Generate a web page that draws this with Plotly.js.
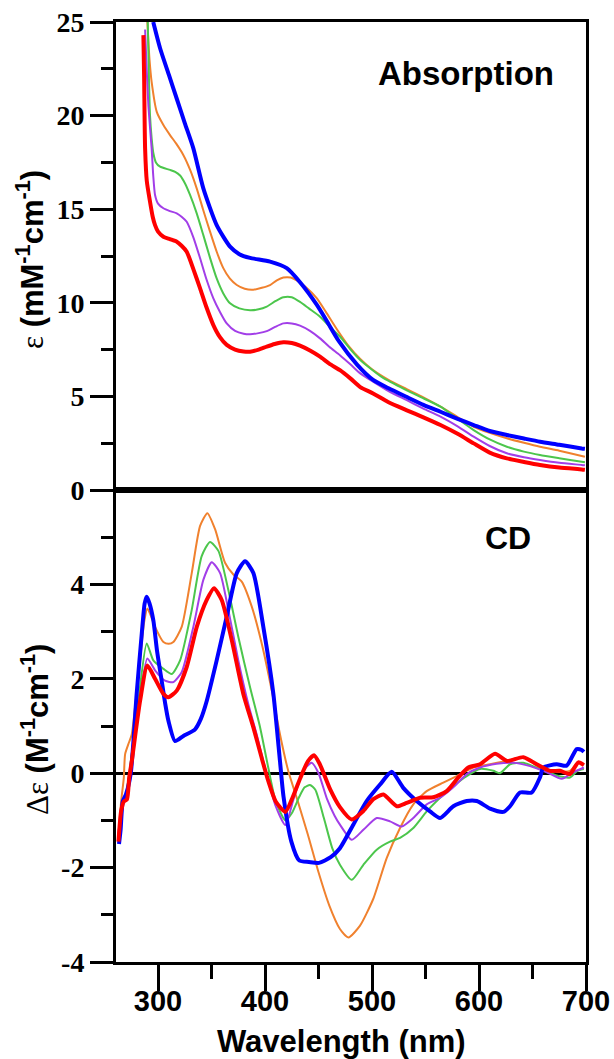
<!DOCTYPE html>
<html>
<head>
<meta charset="utf-8">
<script src="https://cdn.plot.ly/plotly-3.0.1.min.js"></script>
<style>html,body{margin:0;padding:0;background:#fff;}#chart{width:614px;height:1059px;}</style>
</head>
<body>
<div id="chart"></div>
<script>
// ---------- Absorption (epsilon, mM-1 cm-1) ----------
const absBlueX = [295.5,301.9,310,317.5,325,333,342.4,354.8,367.3,376,386,404.7,420.3,432.7,448.3,458,469,486,501,515,532,548,564,580,595,610,626,642,657,675,696,699];
const absBlueY = [25.0,23.6,22.2,20.9,19.6,18.25,16.1,14.15,13.0,12.6,12.4,12.2,11.85,11.1,9.9,9.0,7.95,6.7,5.88,5.45,4.98,4.55,4.18,3.8,3.47,3.15,2.94,2.75,2.58,2.42,2.22,2.2];

const absOrangeX = [290,292,294,298.8,305,311.2,317,323.6,330,336.2,342,348.6,355,361,367,373.6,381,389,397,404.7,411,417.1,424,429.6,438,448.3,457,467,478,489,500,515,532,548,564,580,595,610,626,642,657,675,696,699];
const absOrangeY = [25.0,23.0,21.8,20.2,19.5,18.96,18.5,17.9,17.1,16.1,15.0,13.8,12.7,11.85,11.3,10.95,10.75,10.7,10.8,10.95,11.2,11.35,11.35,11.2,10.85,10.25,9.5,8.6,7.7,7.0,6.45,5.9,5.4,4.95,4.45,3.9,3.38,3.05,2.76,2.52,2.31,2.1,1.82,1.78];

const absGreenX = [290.4,291.5,292.5,294,295.6,298,301.9,311.2,316,320.6,325,329.9,336,342.4,348.6,354.8,361,367.3,376,386,394,401.6,410,417.1,425,432.7,441,451.4,460,470,480,489,495,510,532,548,564,580,595,610,626,642,657,675,696,699];
const absGreenY = [25.0,22.0,20.0,18.8,18.0,17.5,17.27,17.1,17.0,16.8,16.4,15.76,14.8,13.6,12.4,11.3,10.5,9.97,9.7,9.6,9.65,9.8,10.1,10.3,10.3,10.05,9.7,9.26,8.75,8.2,7.5,6.94,6.65,6.0,5.34,4.9,4.45,3.8,3.2,2.7,2.31,2.05,1.87,1.7,1.51,1.48];

const absPurpleX = [287.9,289,291,294,295.5,297.2,300,305,311,317.5,322,326.8,333,339.3,345,351.7,358,364.2,372,380,386,394,401.6,409,417.1,425,432.7,442,451.4,460,470,480,489,501,515,532,548,564,580,595,610,626,642,657,675,696,699];
const absPurpleY = [24.6,23.0,20.5,18.25,16.8,15.76,15.3,15.05,14.9,14.78,14.6,14.33,13.5,12.38,11.3,10.24,9.5,8.9,8.5,8.35,8.32,8.38,8.49,8.7,8.9,8.9,8.78,8.5,8.1,7.65,7.2,6.7,6.23,5.79,5.3,4.81,4.35,3.92,3.4,2.85,2.35,1.96,1.75,1.6,1.45,1.34,1.32];

const absRedX = [286.3,287,287.9,289.5,292.5,295,297.2,300,305,311,317.5,322,326.8,333,339.3,345,351.7,358,364.2,372,380,386,394,401.6,409,417.1,425,432.7,442,451.4,460,470,480,489,501,515,532,548,564,580,595,610,626,642,657,675,696,699];
const absRedY = [24.3,22.0,18.25,16.5,15.4,14.6,14.15,13.8,13.53,13.4,13.26,13.05,12.73,11.8,10.77,9.8,8.81,8.15,7.75,7.5,7.4,7.39,7.5,7.66,7.8,7.89,7.85,7.71,7.45,7.12,6.75,6.4,5.95,5.5,5.16,4.7,4.27,3.88,3.47,3.0,2.49,2.0,1.69,1.5,1.34,1.2,1.1,1.08];

// ---------- CD (delta epsilon, M-1 cm-1) ----------
const cdBlueX = [263.5,265,267,270,274.5,280,284.8,287.5,289.4,292,295.6,299,303.4,306.5,309.7,315.9,323.7,334.6,340,345.5,354.8,364.2,373.6,381.3,389.1,398.4,407.8,414,417.3,424.6,432,441,450.4,461.4,470,482.5,495,507.5,518.4,529.2,541.8,554.2,563.6,576,588.5,597.9,610.3,622.7,629,638.3,649.2,657,660.1,672.6,681.9,691.3,696,698];
const cdBlueY = [-1.5,-1.2,-0.6,-0.45,0.0,1.68,2.96,3.6,3.74,3.6,3.24,2.6,1.96,1.5,1.11,0.68,0.79,0.93,1.15,1.53,2.39,3.32,4.24,4.49,4.24,3.1,1.68,0.25,-0.5,-1.45,-1.85,-1.88,-1.9,-1.78,-1.59,-1.09,-0.59,-0.24,0.03,-0.31,-0.59,-0.81,-0.95,-0.7,-0.59,-0.59,-0.75,-0.82,-0.7,-0.41,-0.41,-0.09,0.12,0.19,0.16,0.51,0.49,0.45];

const cdOrangeX = [263,265.5,268,269.2,272,275.4,279,283.2,287,290,293,297.2,305,310,314.3,322.1,331.5,339.3,346.1,353.3,362.6,370.4,378.2,387.6,396.9,406.3,414,421.8,430,440,450,460,470,477.9,488.8,501.2,513.7,526.2,538.6,551.1,566.6,579.2,594.7,610.3,626,641.4,657,672.6,685,692.8,698];
const cdOrangeY = [-1.3,-0.6,-0.1,0.4,0.6,0.82,1.5,2.39,3.2,3.49,3.35,3.1,2.78,2.74,2.78,3.1,4.24,5.24,5.51,5.17,4.46,4.21,4.06,3.53,2.75,1.75,0.82,0.04,-0.55,-1.3,-2.1,-2.8,-3.3,-3.48,-3.23,-2.66,-1.8,-1.16,-0.66,-0.38,-0.2,-0.06,0.12,0.19,0.26,0.34,0.12,0.03,0.05,0.23,0.17];

const cdGreenX = [263,266,270,273.8,281.6,289.4,295.6,305,312.8,320.6,331.5,340.8,348.6,356.4,365.7,375,386,395.3,403.1,410,419,425,432,437,442,447,455,463,470,481,491.9,504.4,516.8,526.2,538.6,551.1,563.6,576,588.5,600.9,613.4,619.6,629,641.4,657,672.6,685,692,698];
const cdGreenY = [-1.3,-0.7,-0.45,0.11,1.53,2.75,2.39,2.21,2.1,2.39,3.46,4.6,4.9,4.71,3.88,2.89,1.82,0.98,0.11,-0.6,-1.0,-0.85,-0.5,-0.3,-0.25,-0.35,-0.95,-1.6,-1.94,-2.26,-1.94,-1.62,-1.45,-1.37,-1.16,-0.81,-0.52,-0.27,-0.06,0.09,0.05,0.0,0.19,0.22,0.09,-0.05,-0.09,0.05,0.09];

const cdPurpleX = [263,266,270,273.8,281.6,290,297.2,306.5,314.3,322.1,333,342.4,350.2,358,365.7,375,384.4,392.2,400,410,419,426,433,438,443.6,450,458,465,470,481,491.9,504.4,516.8,527.7,538.6,551.1,563.6,576,588.5,600.9,616.5,632,647.7,663.3,677.3,688.2,698];
const cdPurpleY = [-1.3,-0.7,-0.5,-0.04,1.32,2.43,2.18,1.96,1.93,2.14,3.1,4.1,4.47,4.24,3.46,2.39,1.46,0.82,0.11,-0.7,-1.1,-0.6,-0.1,0.12,0.22,0.0,-0.55,-0.9,-1.09,-1.41,-1.2,-0.95,-1.02,-1.13,-0.95,-0.66,-0.52,-0.3,-0.02,0.12,0.2,0.22,0.15,0.02,-0.12,0.02,0.12];

const cdRedX = [263,265.5,268,271,273,275.4,283.2,290,297.2,305,309.7,317.5,326.8,336.2,345.5,352.3,359.5,368.9,379.7,389.1,396.9,403.1,410,419,426,433,440,445.8,451,461,470,481,491.9,501.2,510.6,523.1,532.4,544.9,557.3,569.8,580.7,590,600.9,615,626,641.4,653.9,666.4,675.7,685,692.8,698];
const cdRedY = [-1.45,-0.8,-0.6,-0.55,-0.1,0.25,1.53,2.28,2.0,1.68,1.61,1.75,2.25,3.1,3.67,3.92,3.67,2.82,1.68,0.97,0.32,-0.17,-0.6,-0.82,-0.5,-0.1,0.25,0.38,0.2,-0.35,-0.72,-0.98,-0.8,-0.55,-0.45,-0.7,-0.63,-0.52,-0.51,-0.38,-0.09,0.12,0.19,0.41,0.26,0.34,0.19,0.05,0.05,-0.02,0.23,0.17];

// ---------- tick labels ----------
const xTickVals = [300, 400, 500, 600, 700];
const xTickText = ['300', '400', '500', '600', '700'];
const absTickVals = [0, 5, 10, 15, 20, 25];
const cdTickVals = [-4, -2, 0, 2, 4];
const cdTickText = ['-4', '-2', '0', '2', '4'];

const COL = {blue:'#0000ff', red:'#ff0000', orange:'#f0812e', green:'#4cc64c', purple:'#a23ee8'};

function tr(x, y, color, width, xa, ya) {
  return {x: x, y: y, type: 'scatter', mode: 'lines', xaxis: xa, yaxis: ya,
    line: {color: color, width: width, shape: 'spline', smoothing: 0.6},
    hoverinfo: 'skip', showlegend: false};
}

const data = [
  tr(absOrangeX, absOrangeY, COL.orange, 2, 'x2', 'y'),
  tr(absGreenX, absGreenY, COL.green, 2, 'x2', 'y'),
  tr(absPurpleX, absPurpleY, COL.purple, 2, 'x2', 'y'),
  tr(absBlueX, absBlueY, COL.blue, 4, 'x2', 'y'),
  tr(absRedX, absRedY, COL.red, 4, 'x2', 'y'),
  tr(cdOrangeX, cdOrangeY, COL.orange, 2, 'x', 'y2'),
  tr(cdGreenX, cdGreenY, COL.green, 2, 'x', 'y2'),
  tr(cdPurpleX, cdPurpleY, COL.purple, 2, 'x', 'y2'),
  tr(cdBlueX, cdBlueY, COL.blue, 4, 'x', 'y2'),
  tr(cdRedX, cdRedY, COL.red, 4, 'x', 'y2')
];

const SANS = 'Liberation Sans, Arial, sans-serif';
const SERIF = 'Liberation Serif, Times New Roman, serif';
const XR = [260.7, 700];
const split = 472 / 940;

const layout = {
  width: 614, height: 1059,
  margin: {l: 116, r: 28, t: 22, b: 97, pad: 0},
  paper_bgcolor: '#ffffff', plot_bgcolor: '#ffffff',
  showlegend: false,
  xaxis: {
    domain: [0, 1], anchor: 'y2', range: XR, showgrid: false, zeroline: false,
    showline: true, linecolor: '#000', linewidth: 3, mirror: true,
    tickmode: 'array', tickvals: xTickVals, ticktext: xTickText,
    ticks: 'outside', ticklen: 26, tickwidth: 3, tickcolor: '#000',
    ticklabelstandoff: -15,
    minor: {tickmode: 'array', tickvals: [350, 450, 550, 650], ticks: 'outside', ticklen: 14, tickwidth: 3, tickcolor: '#000', showgrid: false},
    tickfont: {family: SANS, size: 29, color: '#000', weight: 'bold'}
  },
  xaxis2: {
    domain: [0, 1], anchor: 'y', matches: 'x', range: XR, showgrid: false, zeroline: false,
    showline: true, linecolor: '#000', linewidth: 3, mirror: true,
    ticks: '', showticklabels: false
  },
  yaxis: {
    domain: [split, 1], anchor: 'x2', range: [0, 25], showgrid: false, zeroline: false,
    showline: true, linecolor: '#000', linewidth: 3, mirror: true,
    tickmode: 'array', tickvals: absTickVals,
    ticks: 'outside', ticklen: 23, tickwidth: 3, tickcolor: '#000',
    minor: {tickmode: 'array', tickvals: [2.5, 7.5, 12.5, 17.5, 22.5], ticks: 'outside', ticklen: 12, tickwidth: 3, tickcolor: '#000', showgrid: false},
    tickfont: {family: SERIF, size: 28, color: '#000', weight: 'bold'}
  },
  yaxis2: {
    domain: [0, split], anchor: 'x', range: [-4, 6], showgrid: false,
    zeroline: true, zerolinecolor: '#000', zerolinewidth: 3,
    showline: true, linecolor: '#000', linewidth: 3, mirror: true,
    tickmode: 'array', tickvals: cdTickVals, ticktext: cdTickText,
    ticks: 'outside', ticklen: 23, tickwidth: 3, tickcolor: '#000',
    minor: {tickmode: 'array', tickvals: [-3, -1, 1, 3, 5], ticks: 'outside', ticklen: 12, tickwidth: 3, tickcolor: '#000', showgrid: false},
    tickfont: {family: SERIF, size: 28, color: '#000', weight: 'bold'}
  },
  annotations: [
    {text: 'Absorption', xref: 'paper', yref: 'paper', x: (466 - 116) / 470, y: (962 - 74) / 940,
     xanchor: 'center', yanchor: 'middle', showarrow: false,
     font: {family: SANS, size: 33, color: '#000', weight: 'bold'}},
    {text: 'CD', xref: 'paper', yref: 'paper', x: (508 - 116) / 470, y: (962 - 538) / 940,
     xanchor: 'center', yanchor: 'middle', showarrow: false,
     font: {family: SANS, size: 32, color: '#000', weight: 'bold'}},
    {text: 'Wavelength (nm)', xref: 'paper', yref: 'paper', x: (341 - 116) / 470, y: (962 - 1041) / 940,
     xanchor: 'center', yanchor: 'middle', showarrow: false,
     font: {family: SANS, size: 31, color: '#000', weight: 'bold'}},
    {text: '<span style="font-family:Liberation Serif;font-weight:normal">ε</span> (mM<sup>-1</sup>cm<sup>-1</sup>)',
     xref: 'paper', yref: 'paper', x: (30 - 116) / 470, y: (962 - 260) / 940, textangle: -90,
     xanchor: 'center', yanchor: 'middle', showarrow: false,
     font: {family: SANS, size: 31, color: '#000', weight: 'bold'}},
    {text: '<span style="font-family:Liberation Serif;font-weight:normal">Δε</span> (M<sup>-1</sup>cm<sup>-1</sup>)',
     xref: 'paper', yref: 'paper', x: (35 - 116) / 470, y: (962 - 730) / 940, textangle: -90,
     xanchor: 'center', yanchor: 'middle', showarrow: false,
     font: {family: SANS, size: 31, color: '#000', weight: 'bold'}}
  ]
};

Plotly.newPlot('chart', data, layout, {displayModeBar: false, staticPlot: true});
</script>
</body>
</html>
